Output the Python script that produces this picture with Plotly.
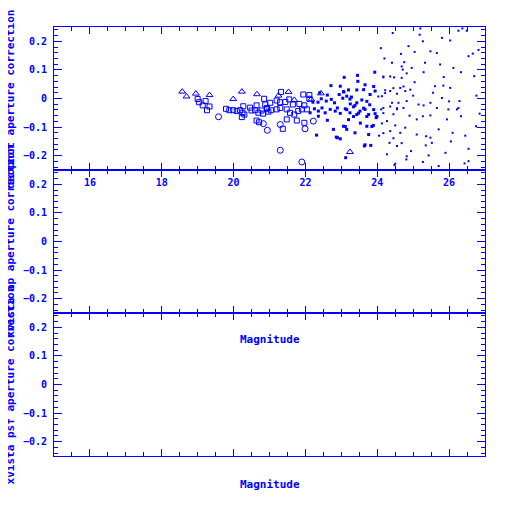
import plotly.graph_objects as go

BLUE = "#0000FF"

# ---- data (magnitude, daophot aperture correction) ----
tri_mag = [18.57, 18.69, 18.95, 19.33, 19.99, 20.23, 20.65, 21.25, 21.53, 21.69, 22.43, 22.16, 23.24]
tri_corr = [0.024, 0.007, 0.017, 0.012, -0.002, 0.024, 0.015, 0.010, 0.023, -0.005, 0.018, -0.003, -0.187]

sq_mag = [19.00, 19.04, 19.14, 19.22, 19.26, 19.33, 19.79, 19.88, 19.99, 20.09, 20.18, 20.27,
          20.25, 20.23, 20.30, 20.46, 20.50, 20.60, 20.64, 20.69, 20.78, 20.88, 20.93, 20.97,
          20.82, 20.64, 20.71, 20.85, 21.02, 21.20, 21.29, 21.44, 21.55, 21.65, 21.83, 21.97,
          22.11, 21.32, 20.93, 21.04, 21.20, 21.30, 21.48, 21.57, 21.69, 21.80, 21.90, 22.04,
          21.48, 21.76, 21.37, 21.97, 21.94, 22.11]
sq_corr = [-0.002, -0.013, -0.024, -0.009, -0.041, -0.028, -0.036, -0.041, -0.041, -0.044, -0.041, -0.027,
           -0.050, -0.065, -0.056, -0.032, -0.042, -0.041, -0.024, -0.050, -0.042, -0.021, -0.036, -0.046,
           -0.053, -0.077, -0.083, -0.001, -0.015, -0.007, -0.013, -0.012, -0.003, -0.021, -0.019, -0.024,
           -0.001, 0.023, -0.033, -0.041, -0.038, -0.033, -0.038, -0.050, -0.056, -0.044, -0.038, -0.038,
           -0.073, -0.077, -0.106, -0.085, 0.014, 0.012]

circ_mag = [19.58, 20.83, 20.94, 21.30, 21.30, 21.90, 21.99, 22.22]
circ_corr = [-0.064, -0.088, -0.111, -0.091, -0.181, -0.222, -0.106, -0.079]

fill_mag = [22.21, 22.35, 22.44, 22.58, 22.72, 22.81, 22.13, 22.25, 22.36, 22.46, 22.55, 22.69,
            22.83, 22.97, 22.61, 22.36, 22.78, 22.31, 22.86, 22.97, 22.40, 22.61, 22.94, 23.07,
            22.71, 22.97, 23.08, 23.45, 23.46, 23.93, 23.62, 23.15, 23.24, 23.43, 22.89, 23.06,
            23.15, 23.38, 22.89, 23.12, 23.64, 23.82, 23.76, 23.97, 23.66, 23.52, 23.76, 23.94,
            23.43, 23.24, 23.11, 23.34, 23.80, 23.94, 23.89, 23.71, 23.71, 23.57, 23.28,
            23.06, 23.20, 23.04, 23.25, 23.38, 23.15, 23.48, 23.62, 23.79, 23.90, 23.99, 23.71,
            23.34, 23.20, 23.53, 23.85, 23.11, 23.90, 23.66, 23.43, 23.66]
fill_corr = [-0.013, -0.013, -0.001, -0.009, -0.003, -0.015, -0.050, -0.036, -0.044, -0.033, -0.050, -0.038,
             -0.044, -0.052, -0.076, -0.062, -0.108, -0.128, -0.135, -0.141, 0.020, 0.012, 0.014, 0.023,
             0.045, 0.043, 0.074, 0.081, 0.060, 0.092, 0.031, 0.008, -0.002, -0.015, -0.033, -0.097,
             -0.108, -0.120, -0.137, -0.207, -0.166, -0.164, -0.126, -0.067, -0.038, -0.044, -0.056, -0.053,
             -0.056, -0.050, -0.036, -0.029, 0.014, 0.026, -0.094, -0.097, -0.010, -0.005, 0.005,
             0.024, 0.030, 0.001, -0.019, -0.024, -0.039, -0.051, -0.034, -0.022, -0.039, -0.063, -0.063,
             -0.063, -0.074, -0.086, -0.098, -0.098, 0.042, 0.048, 0.030, -0.162]

dot_mag = [24.10, 24.41, 24.66, 24.75, 24.87, 25.04, 24.43, 25.18, 25.27, 25.48, 25.66, 25.80,
           26.03, 26.26, 26.49, 26.54, 26.66, 25.33, 25.75, 26.12, 26.33, 26.70, 24.71, 24.96,
           25.29, 25.04, 24.47, 24.68, 24.17, 25.61, 25.84, 26.03, 25.55, 25.80, 26.29, 26.33,
           26.22, 26.85, 26.54, 26.43, 26.54, 25.71, 25.27, 25.43, 24.94, 24.48, 24.81, 24.27,
           24.34, 24.55, 25.35, 25.52, 25.10, 25.36, 25.71, 25.48, 25.94, 25.27, 25.48, 25.10,
           24.78, 24.50, 24.27, 24.64, 24.36, 24.13, 25.15, 25.29, 25.48, 25.66, 25.98, 26.26,
           24.82, 24.59, 24.41, 24.17, 24.11, 24.55, 24.73, 24.92, 24.78, 24.64, 24.55, 24.36,
           24.13, 24.22, 26.76, 26.75, 26.37, 25.20, 26.82, 26.10, 26.05, 25.90, 26.45, 24.05,
           24.20, 25.85, 26.00, 24.45, 24.90, 25.00,
           24.17, 24.36, 24.55, 24.03, 24.22, 24.45, 24.17, 24.36, 24.68, 24.82, 24.73, 24.45,
           24.17, 24.68, 24.82, 24.50]
dot_corr = [0.176, 0.125, 0.156, 0.127, 0.183, 0.163, 0.229, 0.223, 0.200, 0.165, 0.159, 0.212,
            0.203, 0.237, 0.237, 0.148, 0.157, 0.125, 0.119, 0.107, 0.092, 0.078, 0.101, 0.107,
            0.092, 0.057, 0.074, 0.072, 0.074, 0.043, 0.045, 0.037, 0.020, 0.002, -0.009, -0.062,
            -0.038, -0.053, -0.176, -0.227, -0.219, -0.236, -0.222, -0.199, -0.184, -0.233, -0.213, -0.195,
            -0.155, -0.166, -0.164, -0.155, -0.126, -0.132, -0.108, -0.137, -0.073, -0.062, -0.059, -0.073,
            -0.102, -0.094, -0.079, -0.120, -0.114, -0.087, -0.021, -0.024, -0.015, -0.033, -0.038, -0.033,
            -0.009, -0.015, -0.015, -0.033, -0.038, -0.038, -0.033, 0.031, 0.026, 0.037, 0.017, 0.026,
            0.008, 0.029, 0.010, -0.097, 0.245, 0.245, 0.170, -0.120, -0.150, -0.190, -0.130, -0.130,
            0.140, 0.075, -0.010, -0.055, -0.060, 0.010,
            -0.051, -0.028, -0.034, 0.007, 0.019, 0.036, 0.077, 0.077, 0.112, 0.088, 0.042, -0.139,
            -0.121, -0.156, -0.202, -0.228]

ylabels = ["daophot aperture correction", "xvista ap aperture correction", "xvista psf aperture correction"]
xlabel = "Magnitude"

FONT = "DejaVu Sans Mono"

fig = go.Figure()

def add(mag, corr, symbol, size, lw):
    fig.add_trace(go.Scatter(
        x=mag, y=corr, mode="markers", xaxis="x", yaxis="y",
        marker=dict(symbol=symbol, size=size, color=BLUE, line=dict(color=BLUE, width=lw)),
        showlegend=False, hoverinfo="skip"))

add(tri_mag, tri_corr, "triangle-up-open", 6, 1)
add(sq_mag, sq_corr, "square-open", 5, 1)
add(circ_mag, circ_corr, "circle-open", 6, 1)
add(fill_mag, fill_corr, "square", 3, 0)
add(dot_mag, dot_corr, "square", 2, 0)

# empty traces so the lower panels exist
fig.add_trace(go.Scatter(x=[], y=[], xaxis="x2", yaxis="y2", showlegend=False))
fig.add_trace(go.Scatter(x=[], y=[], xaxis="x3", yaxis="y3", showlegend=False))

def xax(anchor, labels):
    return dict(range=[15, 27], anchor=anchor, domain=[0, 1], showgrid=False, zeroline=False,
                showline=True, linecolor=BLUE, linewidth=1, mirror="allticks",
                ticks="inside", ticklen=7, tickcolor=BLUE, tickwidth=1,
                tick0=16, dtick=2, showticklabels=labels, ticklabelstandoff=3,
                tickfont=dict(family=FONT, size=10, color=BLUE, weight="bold"),
                minor=dict(dtick=0.5, tick0=15, ticks="inside", ticklen=4, tickcolor=BLUE, tickwidth=1))

def yax(anchor, dom):
    return dict(range=[-0.25, 0.25], anchor=anchor, domain=dom, showgrid=False, zeroline=False,
                showline=True, linecolor=BLUE, linewidth=1, mirror="allticks",
                ticks="inside", ticklen=8, tickcolor=BLUE, tickwidth=1,
                tick0=0, dtick=0.1, ticklabelstandoff=4,
                tickfont=dict(family=FONT, size=10, color=BLUE, weight="bold"),
                minor=dict(dtick=0.02, tick0=0, ticks="inside", ticklen=4, tickcolor=BLUE, tickwidth=1))

annotations = []
centers = [5 / 6, 0.5, 1 / 6]
for lab, yc in zip(ylabels, centers):
    annotations.append(dict(text=lab, xref="paper", yref="paper", x=-0.1, y=yc,
                            xanchor="center", yanchor="middle", textangle=-90, showarrow=False,
                            font=dict(family=FONT, size=11, color=BLUE, weight="bold")))
for yc in [0.2704, -0.0653]:
    annotations.append(dict(text=xlabel, xref="paper", yref="paper", x=0.5, y=yc,
                            xanchor="center", yanchor="middle", showarrow=False,
                            font=dict(family=FONT, size=11, color=BLUE, weight="bold")))

fig.update_layout(
    width=512, height=512,
    margin=dict(l=46, r=35, t=19, b=64),
    paper_bgcolor="white", plot_bgcolor="white",
    xaxis=xax("y", True), yaxis=yax("x", [2 / 3, 1]),
    xaxis2=xax("y2", False), yaxis2=yax("x2", [1 / 3, 2 / 3]),
    xaxis3=xax("y3", False), yaxis3=yax("x3", [0, 1 / 3]),
    annotations=annotations,
)

fig.write_html("out.html")
